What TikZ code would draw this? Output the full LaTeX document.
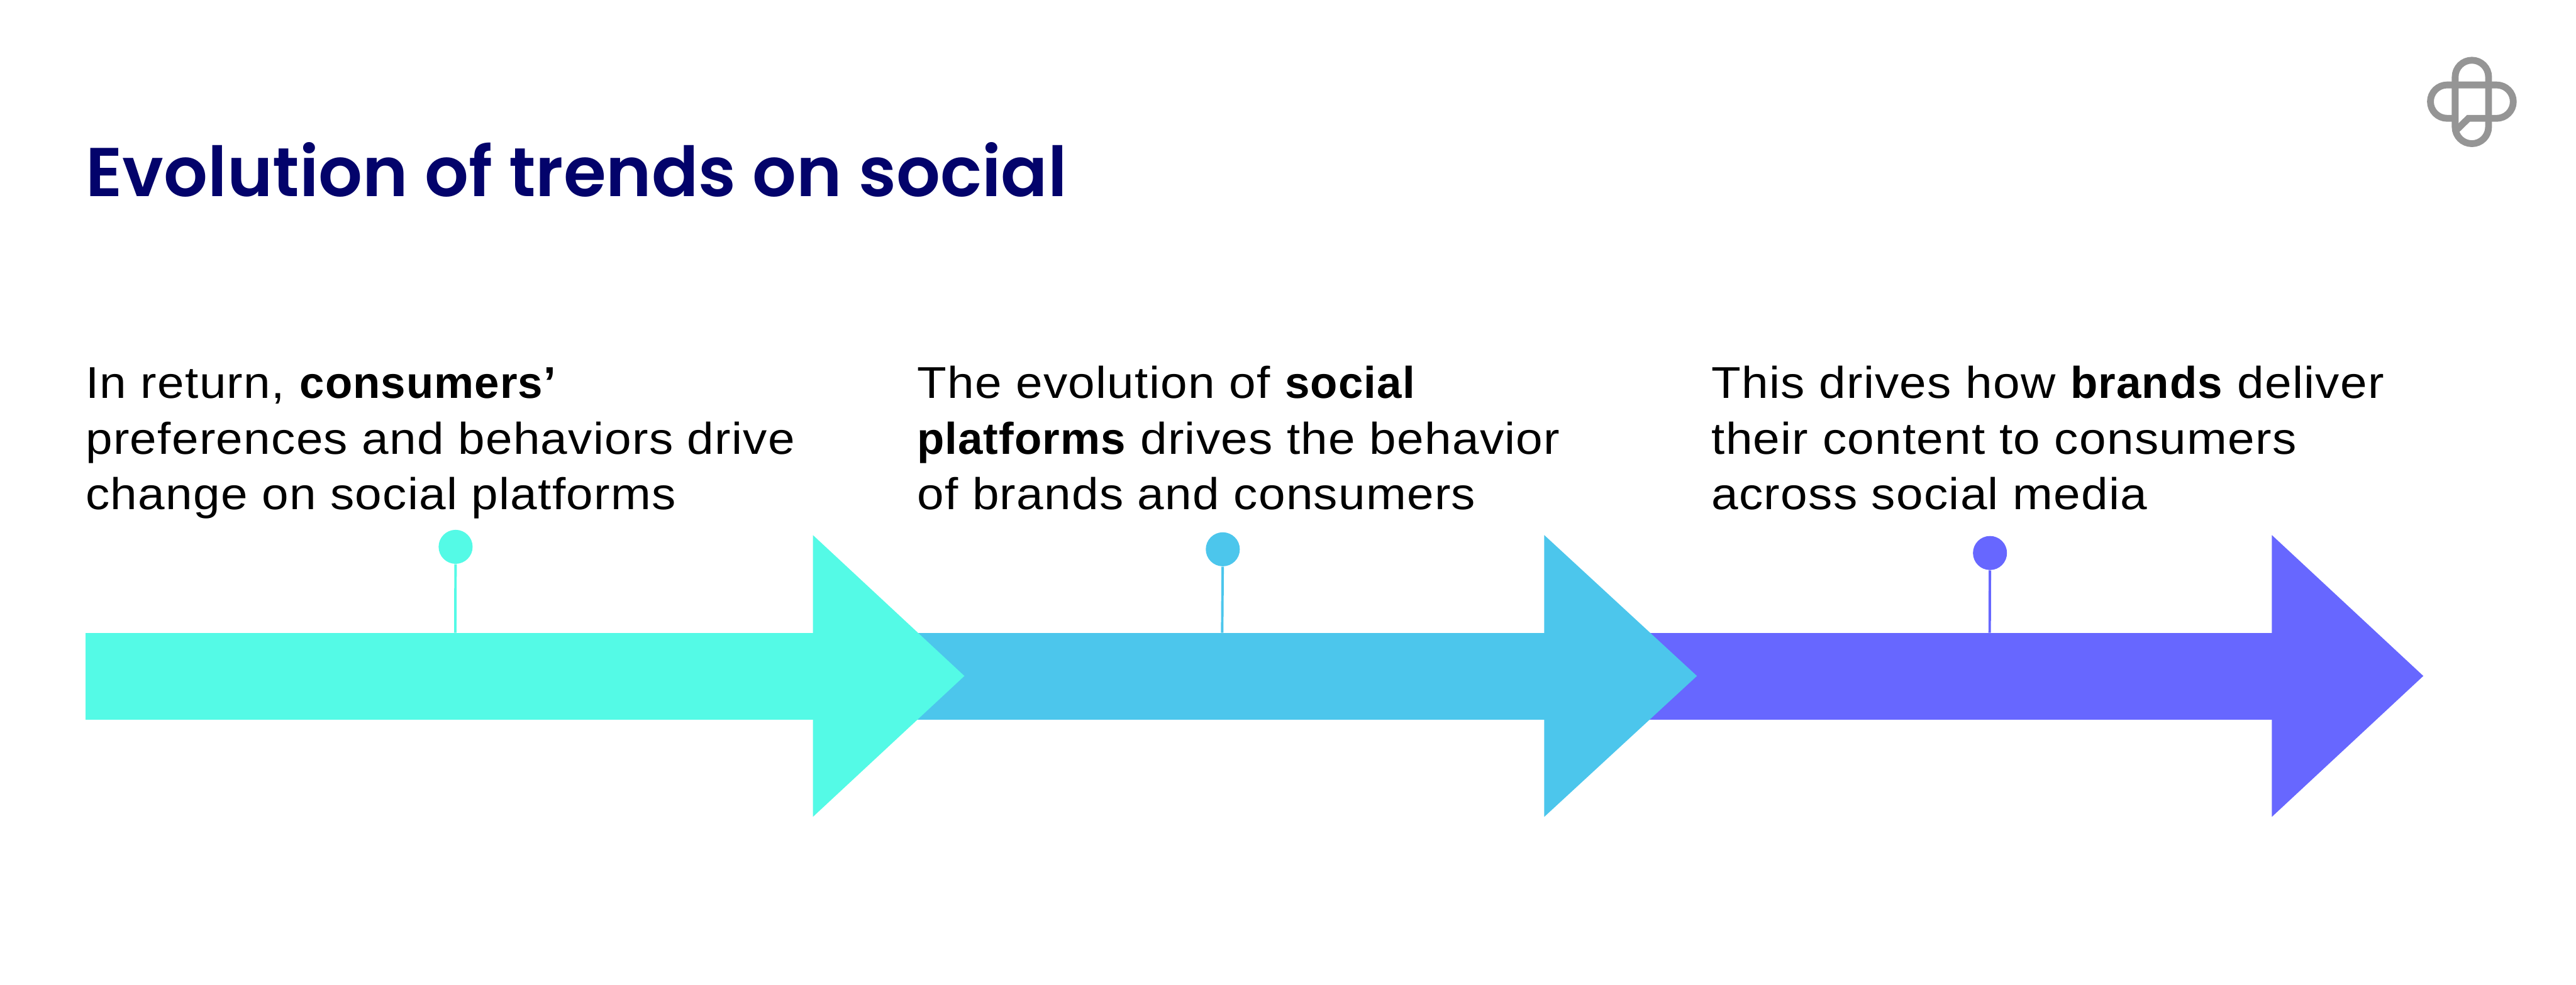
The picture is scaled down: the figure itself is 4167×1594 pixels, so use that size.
\documentclass[tikz,border=0pt]{standalone}
\usepackage{fontspec}
\setmainfont{Liberation Sans}[FakeStretch=1.08, LetterSpace=1.8,
  BoldFeatures={FakeStretch=1.0, LetterSpace=1.5}]
\newfontfamily\titlefont{Poppins}[BoldFont={Poppins SemiBold}]
\definecolor{trendnavy}{HTML}{03036B}
\definecolor{trendcyan}{HTML}{54FAE6}
\definecolor{trendblue}{HTML}{4CC6EC}
\definecolor{trendviolet}{HTML}{6767FF}
\definecolor{logogrey}{HTML}{959595}
\tikzset{
  pin/.style={circle, inner sep=0pt, minimum size=0.55cm},
  pinline/.style={line width=0.04cm},
  blurb/.style={anchor=base west, inner sep=0pt, align=left, text=black,
    font=\fontsize{20.5}{25.6}\selectfont},
  logoline/.style={logogrey, line width=0.11cm},
}
\begin{document}
\begin{tikzpicture}[x=0.01cm, y=-0.01cm]

    % Fix the page size
    \useasboundingbox (0, 0) rectangle (4167, 1594);

    % Violet arrow
    \fill[trendviolet] (2600, 1024) rectangle (3680, 1165);
    \fill[trendviolet] (3675, 866) -- (3920, 1094) -- (3675, 1322) -- cycle;

    % Blue arrow
    \fill[trendblue] (1400, 1024) rectangle (2503, 1165);
    \fill[trendblue] (2498, 866) -- (2745, 1094) -- (2498, 1322) -- cycle;

    % Cyan arrow
    \fill[trendcyan] (138, 1024) rectangle (1320, 1165);
    \fill[trendcyan] (1315, 866) -- (1560, 1094) -- (1315, 1322) -- cycle;

    % Pins above the bars
    \coordinate (C1) at (736.5, 1024);
    \coordinate (C2) at (1977, 1024);
    \coordinate (C3) at (3218.5, 1024);
    \node[pin, fill=trendcyan] (P1) at (737, 885) {};
    \node[pin, fill=trendblue] (P2) at (1978, 889) {};
    \node[pin, fill=trendviolet] (P3) at (3219, 895) {};
    \draw[trendcyan, pinline] (P1) -- (C1);
    \draw[trendblue, pinline] (P2) -- (C2);
    \draw[trendviolet, pinline] (P3) -- (C3);

    % Add title
    \node[anchor=base west, inner sep=0pt, text=trendnavy] (title) at (138, 318)
      {\titlefont\fontsize{31.75}{38}\selectfont\bfseries Evolution of trends on social};

    % Add text blocks (the base of a block is its last line)
    \node[blurb] (T1) at (138, 825) {In return, \textbf{consumers’}\\preferences and behaviors drive\\change on social platforms};
    \node[blurb] (T2) at (1483, 825) {The evolution of \textbf{social}\\\textbf{platforms} drives the behavior\\of brands and consumers};
    \node[blurb] (T3) at (2768, 825) {This drives how \textbf{brands} deliver\\their content to consumers\\across social media};

    % Draw the logo
    \draw[logoline] (3971.5, 124.5) arc[start angle=180, end angle=0, radius=0.27cm]
      -- (4025.5, 205.5) arc[start angle=0, end angle=-180, radius=0.27cm] -- cycle;
    \draw[logoline] (3971.5, 191.5) -- (3958.5, 191.5) arc[start angle=270, end angle=90, radius=0.27cm]
      -- (4038.5, 137.5) arc[start angle=90, end angle=-90, radius=0.27cm]
      -- (3993, 191.5) -- (3973, 211);

\end{tikzpicture}
\end{document}
